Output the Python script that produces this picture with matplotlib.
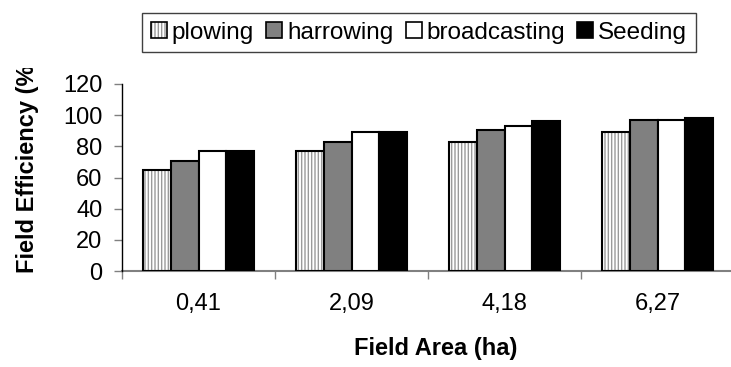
import matplotlib
matplotlib.use("Agg")
import matplotlib.pyplot as plt
from matplotlib.patches import Patch
from matplotlib.legend_handler import HandlerTuple
from matplotlib.transforms import Bbox, TransformedBbox
import numpy as np

plt.rcParams['font.family'] = ['Liberation Sans', 'DejaVu Sans']
plt.rcParams['hatch.linewidth'] = 1.0

# field areas (ha) and field efficiency (%) per operation
areas = ['0,41', '2,09', '4,18', '6,27']
plowing = [65, 77, 83, 89]
harrowing = [70.5, 83, 90.5, 97]
broadcasting = [77, 89.5, 93, 97]
seeding = [77, 89.5, 96, 98.5]

W, H = 731, 367
fig = plt.figure(figsize=(W / 100, H / 100), dpi=100)
# plot area runs a bit past the right edge of the figure
ax = fig.add_axes([122 / W, (H - 271) / H, 612 / W, 187 / H])

x = np.arange(len(areas))
bw = 0.183
offs = [-1.5 * bw, -0.5 * bw, 0.5 * bw, 1.5 * bw]

# plowing: grey vertical hatch with a black outline on top
ax.bar(x + offs[0], plowing, bw, color='white', edgecolor='#9a9a9a',
       hatch='|||||', linewidth=0, zorder=2)
ax.bar(x + offs[0], plowing, bw, fill=False, edgecolor='black',
       linewidth=1.5, zorder=3)
ax.bar(x + offs[1], harrowing, bw, color='#808080', edgecolor='black',
       linewidth=1.5, zorder=3)
ax.bar(x + offs[2], broadcasting, bw, color='white', edgecolor='black',
       linewidth=1.5, zorder=3)
ax.bar(x + offs[3], seeding, bw, color='black', edgecolor='black',
       linewidth=1.5, zorder=3)

ax.set_xlim(-0.5, 3.5)
ax.set_ylim(0, 120)
ax.set_yticks(range(0, 121, 20))
ax.tick_params(axis='y', length=6, width=1, color='#808080', labelsize=17,
               pad=8)
ax.set_xticks(x)
ax.set_xticklabels(areas)
ax.set_xticks(np.arange(-0.5, 4, 1), minor=True)
ax.tick_params(axis='x', which='major', length=0, labelsize=17, pad=16)
ax.tick_params(axis='x', which='minor', length=6, width=1, color='#808080')

for s in ['top', 'right']:
    ax.spines[s].set_visible(False)
ax.spines['left'].set_color('black')
ax.spines['left'].set_linewidth(1)
ax.spines['bottom'].set_color('#808080')
ax.spines['bottom'].set_linewidth(1.5)
ax.spines['left'].set_zorder(4)

fig.text(436 / W, 1 - 348 / H, 'Field Area (ha)', fontsize=17,
         fontweight='bold', ha='center', va='center')
ylab = fig.text(28 / W, (H - 273) / H, 'Field Efficiency (%)', fontsize=17,
                fontweight='bold', rotation=90, ha='center', va='bottom')
ylab.set_clip_box(TransformedBbox(Bbox([[0, 0], [1, 1 - 68 / H]]),
                                  fig.transFigure))
ylab.set_clip_on(True)

h_plow = (Patch(facecolor='white', edgecolor='#9a9a9a', hatch='|||||',
                linewidth=0),
          Patch(fill=False, edgecolor='black', linewidth=1.2))
h_harr = Patch(facecolor='#808080', edgecolor='black', linewidth=1.2)
h_broad = Patch(facecolor='white', edgecolor='black', linewidth=1.2)
h_seed = Patch(facecolor='black', edgecolor='black', linewidth=1.2)
leg = fig.legend([h_plow, h_harr, h_broad, h_seed],
                 ['plowing', 'harrowing', 'broadcasting', 'Seeding'],
                 handler_map={tuple: HandlerTuple(ndivide=1)},
                 loc='center', bbox_to_anchor=(419 / W, 1 - 32.5 / H),
                 ncol=4, fontsize=17.5, fancybox=False, framealpha=1,
                 edgecolor='#404040', handlelength=0.66, handleheight=0.66,
                 handletextpad=0.2, columnspacing=0.5, borderpad=0.35,
                 borderaxespad=0)
leg.get_frame().set_linewidth(1)

fig.savefig('out.png', dpi=100)
